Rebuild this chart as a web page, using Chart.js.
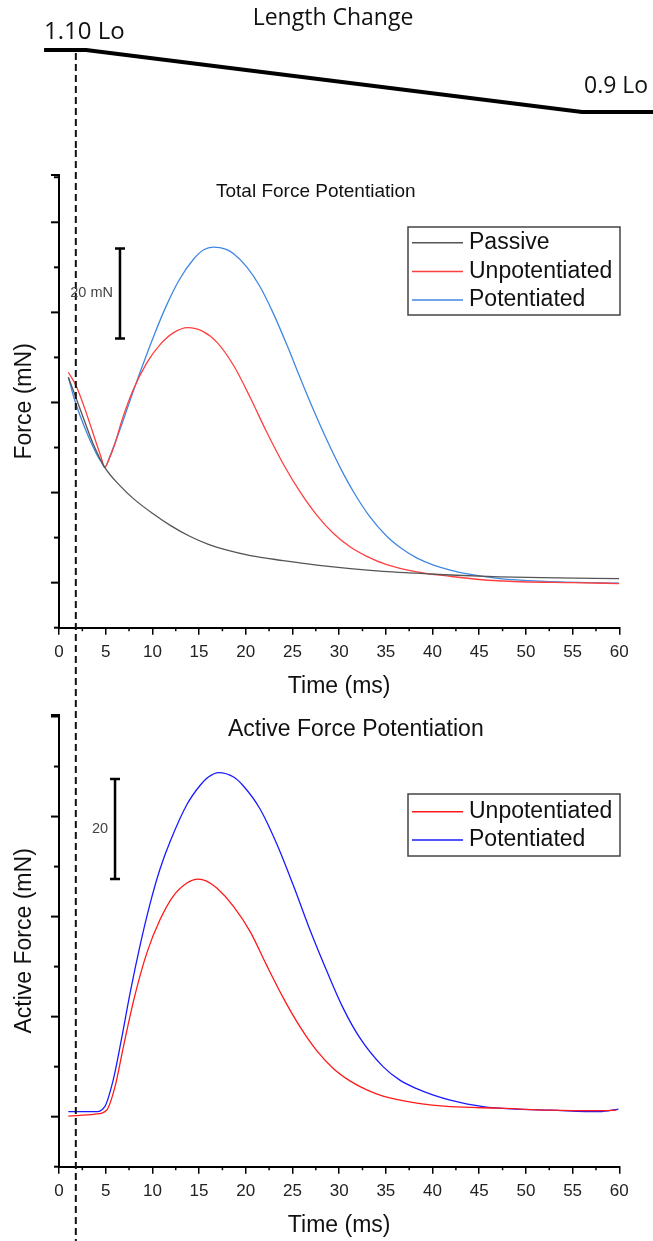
<!DOCTYPE html>
<html lang="en">
<head>
  <meta charset="UTF-8">
  <title>Force Potentiation</title>
  <script src="https://cdn.jsdelivr.net/npm/chart.js"></script>
  <style>
    body { margin: 0; background: #fff; }
    #wrap { position: relative; width: 653px; height: 1241px; }
    canvas { position: absolute; left: 0; }
  </style>
</head>
<body>
<div id="wrap">
  <canvas id="lengthChart" width="653" height="150" style="top:0"></canvas>
  <canvas id="totalChart" width="653" height="550" style="top:150px"></canvas>
  <canvas id="activeChart" width="653" height="541" style="top:700px"></canvas>
</div>
<script>
  // Length change (fraction of Lo) vs time (ms)
  const lengthTime = [-1.6, 2.9, 56.0, 63.6];
  const lengthLevel = [1.10, 1.10, 0.90, 0.90];

  // Total force (mN above resting baseline)
  const passiveTime = [1.0, 2.2, 3.7, 4.9, 6.5, 8.0, 10.0, 12.0, 14.0, 16.0, 18.0, 20.5, 24.0, 27.6, 31.2, 34.7, 38.3, 41.9, 47.2, 51.7, 60.0];
  const passiveForce = [45.6, 38.9, 30.6, 25.6, 21.6, 18.6, 15.4, 12.6, 10.3, 8.5, 7.2, 6.0, 4.9, 3.9, 3.1, 2.5, 2.1, 1.7, 1.3, 1.1, 0.9];

  const totalUnpotTime = [1.0, 1.9, 4.5, 4.9, 5.4, 6.0, 6.7, 7.9, 9.4, 10.8, 12.2, 13.8, 15.4, 16.9, 18.7, 20.5, 22.2, 24.0, 25.8, 27.6, 29.4, 31.2, 32.9, 35.1, 38.3, 41.9, 45.0, 49.4, 55.0, 60.0];
  const totalUnpotForce = [46.7, 43.4, 27.9, 25.6, 27.6, 30.9, 35.8, 42.6, 48.8, 52.8, 55.4, 56.6, 55.8, 53.4, 48.2, 41.0, 33.6, 26.4, 20.2, 15.0, 10.9, 7.9, 5.9, 4.0, 2.4, 1.4, 0.7, 0.2, 0.0, -0.2];

  const totalPotTime = [1.0, 1.7, 4.0, 4.5, 4.9, 5.4, 6.0, 6.7, 7.3, 8.7, 10.1, 11.5, 12.9, 14.4, 15.5, 16.5, 17.9, 18.7, 20.1, 21.5, 22.9, 24.4, 25.8, 27.2, 28.7, 30.1, 31.5, 33.3, 35.1, 36.8, 38.3, 40.1, 41.9, 43.6, 47.2, 52.0, 60.0];
  const totalPotForce = [45.6, 40.4, 28.6, 26.9, 25.6, 27.8, 31.0, 35.0, 38.6, 46.8, 54.5, 61.5, 67.3, 71.8, 73.9, 74.5, 74.0, 73.0, 70.1, 65.8, 60.0, 52.8, 45.6, 38.6, 31.6, 25.6, 20.3, 14.6, 10.3, 7.4, 5.5, 3.9, 2.8, 2.0, 0.9, 0.3, -0.1];

  // Active force (mN)
  const activeUnpotTime = [1.0, 3.85, 5.1, 6.0, 6.9, 8.0, 9.4, 10.8, 12.2, 13.7, 14.9, 15.8, 16.9, 18.7, 20.5, 22.2, 24.0, 25.8, 27.6, 29.4, 31.2, 32.9, 34.7, 38.3, 41.9, 47.2, 52.6, 57.9, 59.7];
  const activeUnpotForce = [0.1, 0.5, 1.3, 6.0, 14.0, 23.3, 32.7, 39.3, 44.0, 46.7, 47.5, 47.1, 45.7, 42.0, 36.9, 30.4, 23.8, 18.0, 13.2, 9.6, 7.1, 5.4, 4.1, 2.7, 2.0, 1.7, 1.3, 1.2, 1.3];

  const activePotTime = [1.0, 3.85, 4.9, 5.8, 6.7, 7.6, 8.7, 9.7, 10.8, 11.9, 13.7, 15.1, 16.0, 17.1, 18.7, 19.7, 21.5, 23.3, 25.1, 26.9, 28.7, 30.4, 32.2, 34.7, 36.5, 38.3, 40.1, 41.9, 45.4, 49.0, 52.6, 57.9, 59.9];
  const activePotForce = [1.0, 1.0, 2.0, 7.3, 15.6, 24.6, 34.4, 42.2, 49.4, 55.0, 62.4, 66.2, 67.9, 68.8, 67.9, 66.2, 61.6, 54.6, 46.2, 37.2, 29.0, 21.8, 15.8, 10.0, 7.3, 5.6, 4.3, 3.3, 2.0, 1.5, 1.3, 1.0, 1.5];

  const STIM_TIME = 1.8; // dashed marker, ms

  const pts = (ts, vs) => ts.map((t, i) => ({ x: t, y: vs[i] }));

  Chart.defaults.font.family = '"Liberation Sans", Arial, sans-serif';
  Chart.defaults.color = '#222';

  function dashedMarker(chart, top) {
    const ctx = chart.ctx;
    const x = chart.scales.x.getPixelForValue(STIM_TIME);
    ctx.save();
    ctx.strokeStyle = '#111';
    ctx.lineWidth = 2;
    ctx.setLineDash([7, 4]);
    ctx.beginPath();
    ctx.moveTo(x, top);
    ctx.lineTo(x, chart.height);
    ctx.stroke();
    ctx.restore();
  }

  // ticks, marker, scale bar, legend and title for the two force panels
  const panelDecor = {
    id: 'panelDecor',
    afterDatasetsDraw(chart, args, opts) {
      const { ctx, chartArea } = chart;
      const x = chart.scales.x, y = chart.scales.y;
      ctx.save();
      ctx.strokeStyle = '#000';

      // y ticks every 10 mN, long every 20
      ctx.lineWidth = 2;
      const yTick = (v, len) => {
        const py = y.getPixelForValue(v);
        ctx.beginPath();
        ctx.moveTo(chartArea.left - len, py);
        ctx.lineTo(chartArea.left, py);
        ctx.stroke();
      };
      for (let v = Math.ceil(y.min / 10) * 10; v <= y.max; v += 10) yTick(v, v % 20 === 0 ? 8 : 5);
      yTick(y.max, 8);

      // minor x ticks
      ctx.lineWidth = 1.5;
      for (let t = 2.5; t < x.max; t += 5) {
        const px = x.getPixelForValue(t);
        ctx.beginPath();
        ctx.moveTo(px, chartArea.bottom);
        ctx.lineTo(px, chartArea.bottom + 3.5);
        ctx.stroke();
      }
      ctx.restore();

      dashedMarker(chart, 0);

      // scale bar
      const bar = opts.bar;
      const bx = x.getPixelForValue(bar.t);
      const by1 = y.getPixelForValue(bar.from);
      const by2 = y.getPixelForValue(bar.from + bar.size);
      ctx.save();
      ctx.strokeStyle = '#000';
      ctx.lineWidth = 2.5;
      ctx.beginPath();
      ctx.moveTo(bx, by1); ctx.lineTo(bx, by2);
      ctx.moveTo(bx - 5, by1); ctx.lineTo(bx + 5, by1);
      ctx.moveTo(bx - 5, by2); ctx.lineTo(bx + 5, by2);
      ctx.stroke();
      ctx.fillStyle = '#444';
      ctx.font = '14.5px "Liberation Sans", Arial, sans-serif';
      ctx.textAlign = 'right';
      ctx.textBaseline = 'middle';
      ctx.fillText(bar.label, bx - 7, (by1 + by2) / 2);

      // title
      ctx.fillStyle = '#111';
      ctx.font = opts.title.size + 'px "Liberation Sans", Arial, sans-serif';
      ctx.textAlign = 'left';
      ctx.fillText(opts.title.text, opts.title.x, opts.title.y);

      // legend
      const lg = opts.legend;
      ctx.fillStyle = '#fff';
      ctx.fillRect(lg.left, lg.top, lg.width, lg.height);
      ctx.strokeStyle = '#444';
      ctx.lineWidth = 1.5;
      ctx.strokeRect(lg.left, lg.top, lg.width, lg.height);
      ctx.font = '23px "Liberation Sans", Arial, sans-serif';
      chart.data.datasets.forEach((ds, i) => {
        const ry = lg.top + lg.firstRow + i * lg.rowGap;
        ctx.strokeStyle = ds.borderColor;
        ctx.lineWidth = 1.5;
        ctx.beginPath();
        ctx.moveTo(lg.left + 4, ry);
        ctx.lineTo(lg.left + 55, ry);
        ctx.stroke();
        ctx.fillStyle = '#111';
        ctx.fillText(ds.label, lg.left + 61, ry);
      });
      ctx.restore();
    }
  };

  function forcePanel(canvasId, datasets, cfg) {
    return new Chart(document.getElementById(canvasId), {
      type: 'line',
      data: { datasets },
      options: {
        responsive: false,
        animation: false,
        devicePixelRatio: 1,
        layout: { padding: { top: cfg.padTop, right: 33.7, bottom: 0, left: 0 } },
        elements: {
          point: { radius: 0 },
          line: { borderWidth: 1.3, cubicInterpolationMode: 'monotone' }
        },
        plugins: {
          legend: { display: false },
          tooltip: { enabled: false },
          panelDecor: cfg.decor
        },
        scales: {
          x: {
            type: 'linear', min: 0, max: 60,
            ticks: { stepSize: 5, color: '#222', font: { size: 17 }, padding: 7, maxRotation: 0, autoSkip: false },
            grid: { display: true, drawOnChartArea: false, drawTicks: true, tickLength: 7, color: '#000', lineWidth: 1.5 },
            border: { display: true, color: '#000', width: 2 },
            title: { display: true, text: 'Time (ms)', color: '#111', font: { size: 23 }, padding: { top: 0, bottom: cfg.xTitlePad } },
            afterFit: s => { s.height = cfg.xHeight; }
          },
          y: {
            type: 'linear', min: cfg.yMin, max: cfg.yMax,
            ticks: { display: false },
            grid: { display: false },
            border: { display: true, color: '#000', width: 2 },
            title: { display: true, text: cfg.yTitle, color: '#111', font: { size: 23 }, padding: { top: 11, bottom: 0 } },
            afterFit: s => { s.width = 59; }
          }
        }
      },
      plugins: [panelDecor]
    });
  }

  // Length change panel
  new Chart(document.getElementById('lengthChart'), {
    type: 'line',
    data: {
      datasets: [{
        data: pts(lengthTime, lengthLevel),
        borderColor: '#000',
        borderWidth: 4,
        pointRadius: 0,
        tension: 0,
        clip: false
      }]
    },
    options: {
      responsive: false,
      animation: false,
      devicePixelRatio: 1,
      layout: { padding: 0 },
      plugins: { legend: { display: false }, tooltip: { enabled: false } },
      scales: {
        x: { type: 'linear', min: -6.32, max: 63.6, display: false },
        y: { type: 'linear', min: 0.777, max: 1.261, display: false }
      }
    },
    plugins: [{
      id: 'lengthDecor',
      afterDatasetsDraw(chart) {
        const ctx = chart.ctx;
        dashedMarker(chart, chart.scales.y.getPixelForValue(1.10) + 3);
        ctx.save();
        ctx.fillStyle = '#111';
        ctx.font = '23px "Open Sans", sans-serif';
        ctx.textBaseline = 'middle';
        ctx.textAlign = 'center';
        ctx.fillText('Length Change', 333, 18);
        ctx.textAlign = 'left';
        ctx.font = '24px "Open Sans", sans-serif';
        ctx.fillText('1.10 Lo', 44, 32);
        ctx.font = '23px "Open Sans", sans-serif';
        ctx.fillText('0.9 Lo', 584, 86);
        ctx.restore();
      }
    }]
  });

  // Total force panel
  forcePanel('totalChart', [
    { label: 'Passive', data: pts(passiveTime, passiveForce), borderColor: '#555555' },
    { label: 'Unpotentiated', data: pts(totalUnpotTime, totalUnpotForce), borderColor: '#ff4040' },
    { label: 'Potentiated', data: pts(totalPotTime, totalPotForce), borderColor: '#4088e2' }
  ], {
    padTop: 25, yMin: -10, yMax: 90.5, yTitle: 'Force (mN)', xHeight: 72.3, xTitlePad: 0,
    decor: {
      bar: { t: 6.53, from: 54.2, size: 20, label: '20 mN' },
      title: { text: 'Total Force Potentiation', x: 216, y: 41.7, size: 19 },
      legend: { left: 408, top: 77, width: 212, height: 88, firstRow: 15.7, rowGap: 28.7 }
    }
  });

  // Active force panel
  forcePanel('activeChart', [
    { label: 'Unpotentiated', data: pts(activeUnpotTime, activeUnpotForce), borderColor: '#ff1a1a' },
    { label: 'Potentiated', data: pts(activePotTime, activePotForce), borderColor: '#1a1aff' }
  ], {
    padTop: 15, yMin: -10, yMax: 80.3, yTitle: 'Active Force (mN)', xHeight: 74.3, xTitlePad: 2,
    decor: {
      bar: { t: 6.0, from: 47.5, size: 20, label: '20' },
      title: { text: 'Active Force Potentiation', x: 228, y: 30, size: 23 },
      legend: { left: 408, top: 94, width: 212, height: 62, firstRow: 17.7, rowGap: 28.3 }
    }
  });
</script>
</body>
</html>
